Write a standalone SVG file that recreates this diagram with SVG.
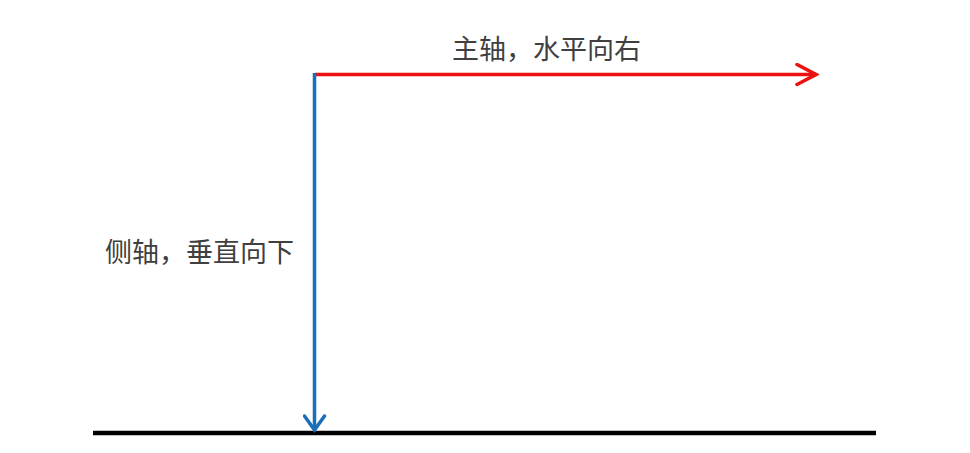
<svg xmlns="http://www.w3.org/2000/svg" width="970" height="453" viewBox="0 0 970 453">
<style>
.lbl{font-family:"Noto Sans CJK SC","Liberation Sans",sans-serif;font-size:27px;fill:#404040;dominant-baseline:central}
</style>
<defs>
<marker id="arrR" viewBox="0 0 24 24" markerUnits="userSpaceOnUse" markerWidth="24" markerHeight="24" refX="21" refY="12" orient="auto">
<path d="M2,2 L21,12 L2,22" fill="none" stroke="#ee1111" stroke-width="3.5" stroke-linecap="round" stroke-linejoin="miter"/>
</marker>
<marker id="arrB" viewBox="0 0 24 24" markerUnits="userSpaceOnUse" markerWidth="24" markerHeight="24" refX="21" refY="12" orient="auto">
<path d="M7,2 L21,12 L7,22" fill="none" stroke="#1a6fb8" stroke-width="3.5" stroke-linecap="round" stroke-linejoin="miter"/>
</marker>
</defs>
<rect width="970" height="453" fill="#ffffff"/>
<g id="baseline">
<line x1="93" y1="433" x2="876" y2="433" stroke="#000000" stroke-width="4.5"/>
</g>
<g id="connectors">
<line x1="315" y1="74.5" x2="816" y2="74.5" stroke="#ee1111" stroke-width="3.5" marker-end="url(#arrR)"/>
<line x1="314.5" y1="73" x2="314.5" y2="430" stroke="#1a6fb8" stroke-width="3.5" marker-end="url(#arrB)"/>
</g>
<g id="main-axis-label">
<text class="lbl" x="452" y="47">主轴，水平向右</text>
</g>
<g id="cross-axis-label">
<text class="lbl" x="105" y="250">侧轴，垂直向下</text>
</g>
</svg>
